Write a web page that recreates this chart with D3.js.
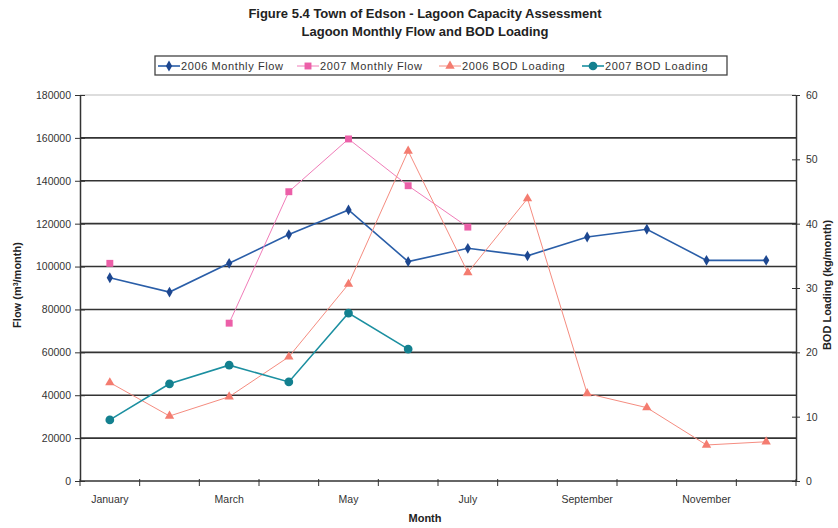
<!DOCTYPE html>
<html>
<head>
<meta charset="utf-8">
<script src="https://cdn.jsdelivr.net/npm/d3@7"></script>
<style>
  body { margin: 0; background: #fff; }
  svg { font-family: Arial, "Liberation Sans", sans-serif; }
</style>
</head>
<body>
<svg id="chart" width="838" height="528"></svg>
<script>
const months = ["January","February","March","April","May","June","July","August","September","October","November","December"];
const monthLabels = ["January","March","May","July","September","November"];
const flow2006 = [94800, 88100, 101500, 114900, 126400, 102300, 108500, 105000, 113800, 117400, 102900, 102900];
const flow2007 = [101500, null, 73600, 134900, 159500, 137700, 118400, null, null, null, null, null];
const bod2006 = [15.3, 10.1, 13.1, 19.3, 30.6, 51.3, 32.4, 43.9, 13.6, 11.4, 5.6, 6.1];
const bod2007 = [9.5, 15.1, 18.0, 15.4, 26.1, 20.5, null, null, null, null, null, null];
const flowTicks = [0, 20000, 40000, 60000, 80000, 100000, 120000, 140000, 160000, 180000];
const bodTicks = [0, 10, 20, 30, 40, 50, 60];

const svg = d3.select("#chart");
const L = 80, R = 796, T = 95, B = 481;
const textCol = "#333";

const x = d3.scaleBand().domain(months).range([L, R]);
const yF = d3.scaleLinear().domain([0, 180000]).range([B, T]);
const yB = d3.scaleLinear().domain([0, 60]).range([B, T]);

// Title
svg.append("text").attr("x", 425).attr("y", 18).attr("text-anchor", "middle")
  .attr("font-size", 13).attr("font-weight", "bold").attr("fill", "#222")
  .text("Figure 5.4 Town of Edson - Lagoon Capacity Assessment");
svg.append("text").attr("x", 425).attr("y", 36).attr("text-anchor", "middle")
  .attr("font-size", 13).attr("font-weight", "bold").attr("fill", "#222")
  .text("Lagoon Monthly Flow and BOD Loading");

// Gridlines
svg.append("g").selectAll("line").data(flowTicks.filter(d => d > 0)).join("line")
  .attr("x1", L).attr("x2", R).attr("y1", d => yF(d)).attr("y2", d => yF(d))
  .attr("stroke", d => d === 180000 ? "#bbb" : "#333")
  .attr("stroke-width", d => d === 180000 ? 1 : 1.6);

// Left axis
const gL = svg.append("g").attr("transform", `translate(${L},0)`)
  .call(d3.axisLeft(yF).tickValues(flowTicks).tickFormat(d3.format("d")).tickSizeInner(5).tickSizeOuter(0));
gL.selectAll(".tick line").attr("x2", 5).attr("x1", -5).attr("stroke", "#333");
gL.select(".domain").attr("stroke", "#333").attr("stroke-width", 1.5);
gL.selectAll("text").attr("font-size", 10.5).attr("fill", textCol).attr("x", -9);

// Right axis
const gR = svg.append("g").attr("transform", `translate(${R},0)`)
  .call(d3.axisRight(yB).tickValues(bodTicks).tickSizeInner(5).tickSizeOuter(0));
gR.selectAll(".tick line").attr("x1", -4).attr("x2", 4).attr("stroke", "#333");
gR.select(".domain").attr("stroke", "#333").attr("stroke-width", 1.5);
gR.selectAll("text").attr("font-size", 10.5).attr("fill", textCol).attr("x", 10);

// Bottom axis
const gB = svg.append("g").attr("transform", `translate(0,${B})`);
gB.append("line").attr("x1", L).attr("x2", R).attr("y1", 0).attr("y2", 0)
  .attr("stroke", "#333").attr("stroke-width", 1.6);
const bounds = months.map(m => x(m)).concat([R]);
gB.selectAll("line.tk").data(bounds).join("line").attr("class", "tk")
  .attr("x1", d => d).attr("x2", d => d).attr("y1", -2).attr("y2", 5)
  .attr("stroke", "#333").attr("stroke-width", 1);
gB.selectAll("text.ml").data(monthLabels).join("text").attr("class", "ml")
  .attr("x", d => x(d) + x.bandwidth() / 2).attr("y", 22)
  .attr("text-anchor", "middle").attr("font-size", 10.5).attr("fill", textCol)
  .text(d => d);

// Axis titles
svg.append("text").attr("x", 425).attr("y", 522).attr("text-anchor", "middle")
  .attr("font-size", 11).attr("font-weight", "bold").attr("fill", "#222").text("Month");
svg.append("text").attr("transform", `translate(21,285) rotate(-90)`).attr("text-anchor", "middle")
  .attr("font-size", 11).attr("font-weight", "bold").attr("fill", "#222")
  .html('Flow (m<tspan baseline-shift="super" font-size="7">3</tspan>/month)');
svg.append("text").attr("transform", `translate(831,285) rotate(-90)`).attr("text-anchor", "middle")
  .attr("font-size", 11).attr("font-weight", "bold").attr("fill", "#222")
  .text("BOD Loading (kg/month)");

const cx = (i) => x(months[i]) + x.bandwidth() / 2;

const series = [
  { name: "2006 Monthly Flow", data: flow2006, y: yF, color: "#2a5ea8", mcolor: "#1d4790", width: 1.6, shape: d3.symbolDiamond, size: 34 },
  { name: "2007 Monthly Flow", data: flow2007, y: yF, color: "#f07cb8", mcolor: "#ec5fa8", width: 1, shape: d3.symbolSquare, size: 48 },
  { name: "2006 BOD Loading", data: bod2006, y: yB, color: "#f58c80", mcolor: "#f47c70", width: 1, shape: d3.symbolTriangle, size: 38 },
  { name: "2007 BOD Loading", data: bod2007, y: yB, color: "#1b8fa0", mcolor: "#13808f", width: 1.6, shape: d3.symbolCircle, size: 60 }
];

const gS = svg.append("g");
series.forEach(s => {
  const pts = s.data.map((v, i) => ({ v, i }));
  const line = d3.line().defined(d => d.v != null).x(d => cx(d.i)).y(d => s.y(d.v));
  gS.append("path").datum(pts).attr("d", line).attr("fill", "none")
    .attr("stroke", s.color).attr("stroke-width", s.width);
  gS.selectAll(null).data(pts.filter(d => d.v != null)).join("path")
    .attr("transform", d => `translate(${cx(d.i)},${s.y(d.v)})`)
    .attr("d", d3.symbol().type(s.shape).size(s.size)).attr("fill", s.mcolor);
});

// Legend
const lg = svg.append("g");
lg.append("rect").attr("x", 155).attr("y", 56).attr("width", 572).attr("height", 19)
  .attr("fill", "#fff").attr("stroke", "#444").attr("stroke-width", 1.3);
const lx = [158, 297, 439, 582];
series.forEach((s, k) => {
  const g = lg.append("g").attr("transform", `translate(${lx[k]},66)`);
  g.append("line").attr("x1", 0).attr("x2", 22).attr("stroke", s.color).attr("stroke-width", s.width);
  g.append("path").attr("transform", "translate(11,0)")
    .attr("d", d3.symbol().type(s.shape).size(s.size)).attr("fill", s.mcolor);
  g.append("text").attr("x", 23).attr("y", 4).attr("font-size", 11).attr("letter-spacing", 0.6)
    .attr("fill", textCol).text(s.name);
});
</script>
</body>
</html>
